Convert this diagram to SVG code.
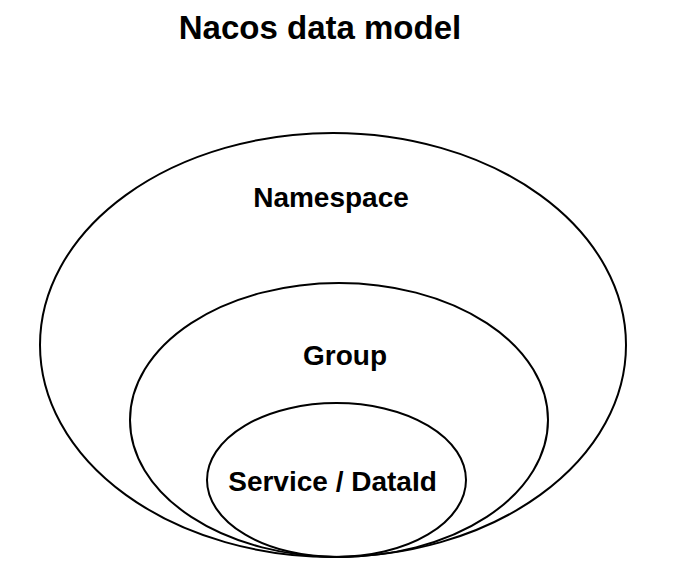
<svg xmlns="http://www.w3.org/2000/svg" width="688" height="582" viewBox="0 0 688 582">
<style>
.e{fill:none;stroke:#000;stroke-width:2}
.t{font-family:"Liberation Sans",Arial,sans-serif;font-weight:bold;font-size:28px;fill:#000;text-anchor:middle}
</style>
<rect width="688" height="582" fill="#fff"/>
<text class="t" x="320" y="39" style="font-size:33px">Nacos data model</text>
<g id="namespace">
<ellipse class="e" cx="333" cy="345" rx="293" ry="212"/>
<text class="t" x="331" y="207">Namespace</text>
</g>
<g id="group">
<ellipse class="e" cx="339" cy="420" rx="209" ry="137"/>
<text class="t" x="345" y="365">Group</text>
</g>
<g id="service">
<ellipse class="e" cx="336.5" cy="480" rx="129.5" ry="77"/>
<text class="t" x="332.5" y="491">Service / DataId</text>
</g>
<g id="connectors"></g>
</svg>
